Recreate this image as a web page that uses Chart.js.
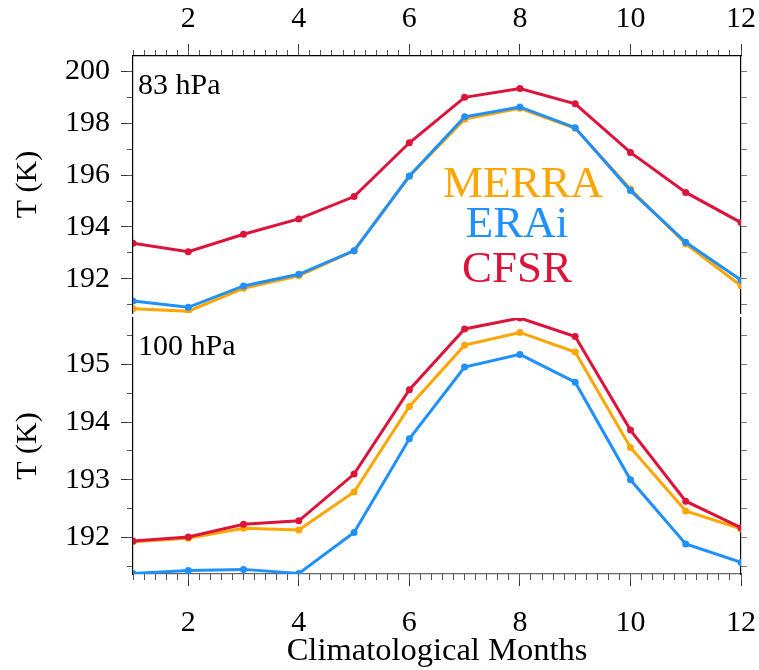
<!DOCTYPE html>
<html lang="en">
<head>
<meta charset="UTF-8">
<title>Climatological temperature, 83 and 100 hPa</title>
<script src="https://cdn.jsdelivr.net/npm/chart.js"></script>
<style>
  html, body { margin: 0; padding: 0; background: #fff; }
  #wrap { position: relative; width: 759px; height: 670px; }
  #wrap canvas { position: absolute; left: 0; }
</style>
</head>
<body>
<div id="wrap">
  <canvas id="top" width="759" height="320" style="top:0"></canvas>
  <canvas id="bottom" width="759" height="370" style="top:300px"></canvas>
</div>
<script>
// data
const months = [1, 2, 3, 4, 5, 6, 7, 8, 9, 10, 11, 12];
const seriesNames = ['MERRA', 'ERAi', 'CFSR'];
const seriesColors = ['#FFA500', '#1E90FF', '#DC143C'];

// 83 hPa
const merra83 = [190.85, 190.76, 191.64, 192.12, 193.08, 195.95, 198.15, 198.57, 197.80, 195.46, 193.35, 191.74];
const erai83  = [191.15, 190.91, 191.73, 192.18, 193.09, 195.96, 198.24, 198.62, 197.82, 195.40, 193.41, 191.96];
const cfsr83  = [193.37, 193.05, 193.72, 194.31, 195.17, 197.24, 198.99, 199.33, 198.74, 196.87, 195.33, 194.17];

// 100 hPa
const merra100 = [191.93, 191.99, 192.16, 192.13, 192.79, 194.27, 195.33, 195.55, 195.21, 193.56, 192.46, 192.15];
const erai100  = [191.38, 191.43, 191.45, 191.38, 192.09, 193.71, 194.95, 195.17, 194.69, 193.00, 191.89, 191.57];
const cfsr100  = [191.94, 192.01, 192.23, 192.29, 193.10, 194.56, 195.61, 195.80, 195.48, 193.86, 192.63, 192.17];

// tick positions
const monthLabels = [2, 4, 6, 8, 10, 12];
const monthMinor = [];
for (let i = 0; i <= 55; i++) monthMinor.push(+(1 + i * 0.2).toFixed(1));
const yTicks83 = [192, 194, 196, 198, 200];
const yMinor83 = [191, 192, 193, 194, 195, 196, 197, 198, 199, 200];
const yTicks100 = [192, 193, 194, 195];
const yMinor100 = [191.5, 192, 192.5, 193, 193.5, 194, 194.5, 195, 195.5];

const FONT = "'Liberation Serif', 'Times New Roman', serif";
const tickCol = '#555';

function setTicks(list) {
    return function(scale) { scale.ticks = list.map(v => ({ value: v })); };
}
// fixed axis size, and no extra room asked for by the edge labels
function fixSize(w, h) {
    return function(s) {
        if (w !== null) s.width = w;
        if (h !== null) s.height = h;
        s.paddingTop = s.paddingBottom = s.paddingLeft = s.paddingRight = 0;
    };
}

function makeDatasets(vals) {
    // MERRA drawn first, CFSR on top
    return vals.map((v, i) => ({
        label: seriesNames[i],
        data: months.map((m, j) => ({ x: m, y: v[j] })),
        borderColor: seriesColors[i],
        backgroundColor: seriesColors[i],
        borderWidth: 3,
        pointRadius: 3.5,
        pointBorderWidth: 0,
        pointHoverRadius: 3.5,
        tension: 0,
        order: 2 - i
    }));
}

// text inside the panels: level name and the coloured legend
const panelText = {
    id: 'panelText',
    afterDraw(chart, args, opts) {
        const ctx = chart.ctx;
        const area = chart.chartArea;
        ctx.save();
        ctx.fillStyle = '#000';
        ctx.font = '30px ' + FONT;
        ctx.textAlign = 'left';
        ctx.textBaseline = 'alphabetic';
        ctx.fillText(opts.level, area.left + 5, area.top + opts.levelY);
        if (opts.legend) {
            ctx.font = '45px ' + FONT;
            ctx.textAlign = 'center';
            const xs = [523, 517, 517];
            const ys = [197, 237, 282];
            seriesNames.forEach((n, i) => {
                ctx.fillStyle = seriesColors[i];
                ctx.fillText(n, xs[i], ys[i]);
            });
        }
        ctx.restore();
    }
};

function makePanel(id, vals, yMin, yMax, yTicks, yMinor, isTop, level, levelY) {
    const xMain = {
        type: 'linear', position: isTop ? 'top' : 'bottom', min: 1, max: 12, weight: 1,
        afterBuildTicks: setTicks(monthLabels),
        afterFit: fixSize(null, isTop ? 56 : 96),
        grid: { drawOnChartArea: false, tickLength: 12, tickColor: '#333', tickWidth: 1 },
        border: { display: true, color: isTop ? '#000' : '#666', width: 1.2 },
        ticks: { color: '#000', font: { family: FONT, size: 30 }, padding: isTop ? 7 : 19, maxRotation: 0 },
        title: isTop ? { display: false } : {
            display: true, text: 'Climatological Months', color: '#000',
            font: { family: FONT, size: 32.5 }, padding: { top: 0, bottom: -1 }
        }
    };
    const xMinor = {
        type: 'linear', position: isTop ? 'top' : 'bottom', min: 1, max: 12, weight: 0,
        afterBuildTicks: setTicks(monthMinor),
        afterFit: fixSize(null, 0),
        grid: { drawOnChartArea: false, tickLength: 6, tickColor: tickCol, tickWidth: 1 },
        border: { display: false },
        ticks: { display: false }
    };
    const yMain = {
        type: 'linear', position: 'left', min: yMin, max: yMax, weight: 1,
        afterBuildTicks: setTicks(yTicks),
        afterFit: fixSize(133, null),
        grid: { drawOnChartArea: false, tickLength: 12, tickColor: '#333', tickWidth: 1 },
        border: { display: true, color: '#000', width: 1.2 },
        ticks: { color: '#000', font: { family: FONT, size: 30 }, padding: 11 },
        title: { display: true, text: 'T (K)', color: '#000', font: { family: FONT, size: 30 }, padding: { top: 10, bottom: 0 } }
    };
    const yMinorAx = {
        type: 'linear', position: 'left', min: yMin, max: yMax, weight: 0,
        afterBuildTicks: setTicks(yMinor),
        afterFit: fixSize(0, null),
        grid: { drawOnChartArea: false, tickLength: 6, tickColor: tickCol, tickWidth: 1 },
        border: { display: false },
        ticks: { display: false }
    };
    const yRight = {
        type: 'linear', position: 'right', min: yMin, max: yMax,
        afterBuildTicks: setTicks(yMinor),
        afterFit: fixSize(18, null),
        grid: { drawOnChartArea: false, tickLength: 6, tickColor: '#777', tickWidth: 1 },
        border: { display: true, color: '#000', width: 1.2 },
        ticks: { display: false }
    };

    return new Chart(document.getElementById(id), {
        type: 'line',
        data: { datasets: makeDatasets(vals) },
        options: {
            responsive: false,
            animation: false,
            devicePixelRatio: 1,
            layout: { padding: isTop ? { left: 0, right: 0, top: 0, bottom: 7 } : { left: 0, right: 0, top: 18, bottom: 0 } },
            scales: { x: xMain, xm: xMinor, y: yMain, ym: yMinorAx, yr: yRight },
            plugins: {
                legend: { display: false },
                tooltip: { enabled: false },
                panelText: { level: level, levelY: levelY, legend: isTop }
            }
        },
        plugins: [panelText]
    });
}

makePanel('top', [merra83, erai83, cfsr83], 190.69, 200.58, yTicks83, yMinor83, true, '83 hPa', 38);
makePanel('bottom', [merra100, erai100, cfsr100], 191.37, 195.80, yTicks100, yMinor100, false, '100 hPa', 37);
</script>
</body>
</html>
